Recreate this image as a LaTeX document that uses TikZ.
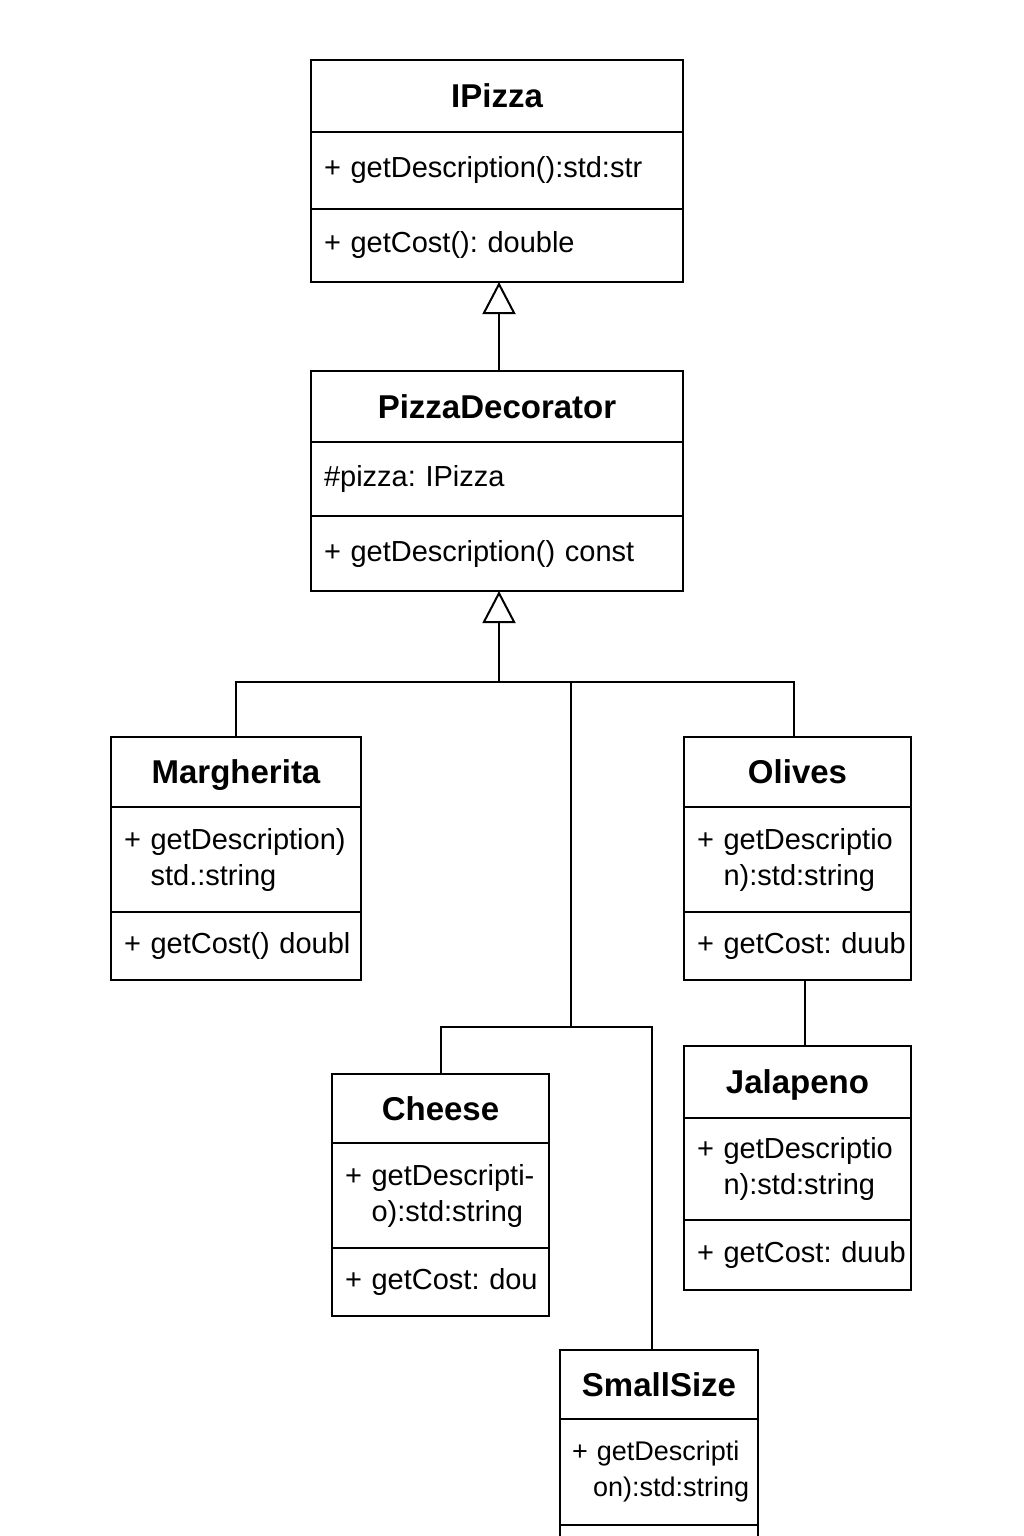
\documentclass[tikz,border=0pt]{standalone}
\usepackage{fontspec}
\setmainfont{Liberation Sans}
\usepackage{tikz}
\usetikzlibrary{positioning,arrows.meta}

\newcommand{\titlefont}{\fontsize{33}{36}\selectfont\bfseries}
\newcommand{\memberfont}{\fontsize{29}{36}\selectfont\hyphenpenalty=10000\exhyphenpenalty=10000\relax}
\newcommand{\narrowfont}{\fontsize{27}{36}\selectfont\hyphenpenalty=10000\exhyphenpenalty=10000\relax}
\newcommand{\ind}{\phantom{+~}}

\begin{document}
\begin{tikzpicture}[x=1pt, y=-1pt, line width=2pt,
		classname/.style={draw, anchor=north west, outer sep=0pt, inner sep=0pt,
			minimum width=#1, text height=23pt, text depth=0pt, font=\titlefont},
		member/.style={draw, outer sep=0pt, inner xsep=13pt, inner ysep=0pt,
			text width=#1, align=left, font=\memberfont},
		inherit/.style={-{Triangle[open, length=32pt, width=33pt, line width=2pt]}}]
		\clip (0,0) rectangle (1024,1536);
		\node[classname=372pt, minimum height=72pt] (ipizza) at (311,60) {IPizza};
		\node[member=346pt, minimum height=77pt, below=0pt of ipizza] (ipizzaA) {+~getDescription():std:str};
		\node[member=346pt, minimum height=73pt, below=0pt of ipizzaA] (ipizzaM) {+~getCost():~double};

		\node[classname=372pt, minimum height=71pt] (deco) at (311,371) {PizzaDecorator};
		\node[member=346pt, minimum height=74pt, below=0pt of deco] (decoA) {\#pizza:~IPizza};
		\node[member=346pt, minimum height=75pt, below=0pt of decoA] (decoM) {+~getDescription()~const};

		\node[classname=250pt, minimum height=70pt] (marg) at (111,737) {Margherita};
		\node[member=224pt, minimum height=105pt, below=0pt of marg] (margA) {+~getDescription)\\\ind std.:string};
		\node[member=224pt, minimum height=68pt, below=0pt of margA] (margM) {+~getCost()~doubl};

		\node[classname=227pt, minimum height=70pt] (oliv) at (684,737) {Olives};
		\node[member=201pt, minimum height=105pt, below=0pt of oliv] (olivA) {+~getDescriptio\\\ind n):std:string};
		\node[member=201pt, minimum height=68pt, below=0pt of olivA] (olivM) {+~getCost:~duub};

		\node[classname=217pt, minimum height=69pt] (chee) at (332,1074) {Cheese};
		\node[member=191pt, minimum height=105pt, below=0pt of chee] (cheeA) {+~getDescripti-\\\ind o):std:string};
		\node[member=191pt, minimum height=68pt, below=0pt of cheeA] (cheeM) {+~getCost:~dou};

		\node[classname=227pt, minimum height=72pt] (jala) at (684,1046) {Jalapeno};
		\node[member=201pt, minimum height=102pt, below=0pt of jala] (jalaA) {+~getDescriptio\\\ind n):std:string};
		\node[member=201pt, minimum height=70pt, below=0pt of jalaA] (jalaM) {+~getCost:~duub};

		\node[classname=198pt, minimum height=69pt] (small) at (560,1350) {SmallSize};
		\node[member=172pt, minimum height=106pt, font=\narrowfont, inner xsep=12pt, text width=174pt,
			below=0pt of small] (smallA) {+~getDescripti\\\hspace*{21pt}on):std:string};
		\node[member=172pt, minimum height=70pt, below=0pt of smallA] (smallM) {};

		\coordinate (hub) at (499,682);
		\coordinate (mid) at (571,682);
		\coordinate (low) at (571,1027);

		\draw[inherit] ([xshift=2pt]deco.north) -- ([xshift=2pt]ipizzaM.south);
		\draw[inherit] (hub) -- (hub |- decoM.south);
		\draw (marg.north) |- (hub) -| ([xshift=-3.5pt]oliv.north);
		\draw (mid) -- (low);
		\draw (chee.north) |- (low) -| ([xshift=-7pt]small.north);
		\draw ([xshift=7.5pt]olivM.south) -- ([xshift=7.5pt]jala.north);
	\end{tikzpicture}
\end{document}
